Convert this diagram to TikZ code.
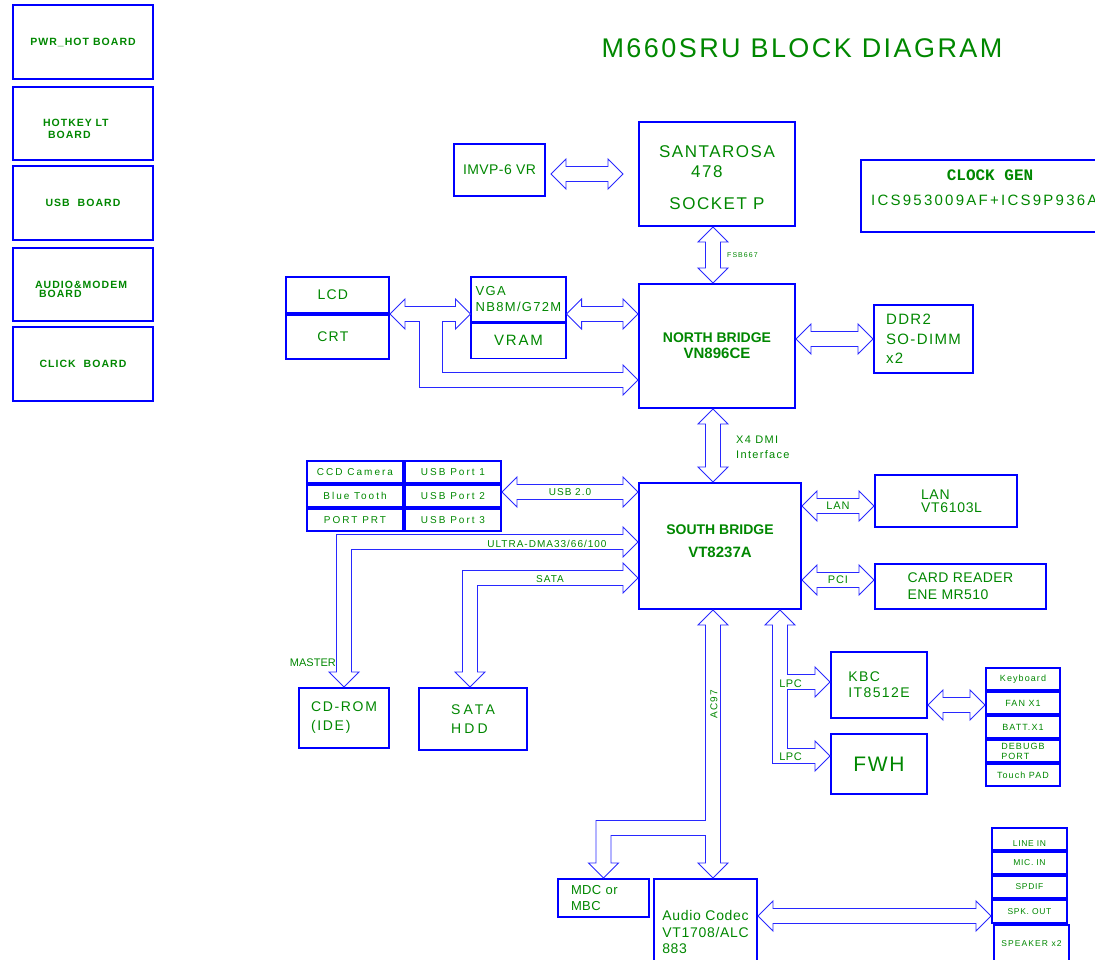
\documentclass[tikz,border=0pt]{standalone}
\usepackage{fontspec}
\setmainfont{Liberation Sans}
\newfontfamily\clkfont{Liberation Mono}
\usepackage{xcolor}
\definecolor{dgblue}{RGB}{0,0,255}
\definecolor{dgbus}{RGB}{40,40,255}
\definecolor{dggreen}{RGB}{0,135,0}
\usetikzlibrary{calc, positioning}
% font size, baselineskip, letter spacing
\newcommand{\fnt}[3]{\fontsize{#1}{#2}\selectfont\addfontfeature{LetterSpace=#3}}
% hollow bus arrows
\newcommand{\arrhead}{15}
\newcommand{\arrshaft}{7.5}
\newcommand{\arrlen}{15}
\newcommand{\dblarr}[2]{%
  \coordinate (da) at #1;
  \coordinate (db) at #2;
  \coordinate (da1) at ($(da)!\arrlen pt!(db)$);
  \coordinate (db1) at ($(db)!\arrlen pt!(da)$);
  \draw[bus] (da) -- ($(da1)!\arrhead pt!90:(db)$) -- ($(da1)!\arrshaft pt!90:(db)$)
    -- ($(db1)!\arrshaft pt!-90:(da)$) -- ($(db1)!\arrhead pt!-90:(da)$) -- (db)
    -- ($(db1)!\arrhead pt!90:(da)$) -- ($(db1)!\arrshaft pt!90:(da)$)
    -- ($(da1)!\arrshaft pt!-90:(db)$) -- ($(da1)!\arrhead pt!-90:(db)$) -- cycle;}

\begin{document}
\begin{tikzpicture}[x=1pt, y=-1pt,
  blk/.style={rectangle, draw=dgblue, line width=2pt, inner sep=0pt, text=dggreen, align=center},
  vgabox/.style={blk, line width=1.1pt},
  board/.style={blk, minimum width=140, font=\bfseries\fnt{10.5}{12}{10}},
  cell/.style={blk, minimum width=96, minimum height=22, font=\fnt{10}{12}{20}},
  kcell/.style={blk, minimum width=74, minimum height=22, font=\fnt{9}{10}{12}},
  jcell/.style={blk, minimum width=75, minimum height=22, font=\fnt{8.5}{10}{8}},
  bus/.style={draw=dgbus, line width=0.9pt, fill=white, line join=miter},
  lbl/.style={text=dggreen, inner sep=0pt},
  buslbl/.style={lbl, font=\fnt{10}{12}{10}}
]
  \useasboundingbox (0,0) rectangle (1095,960);
  \clip (0,0) rectangle (1095,960);

  % Daughter boards
  \node[board, minimum height=74] (pwrhot) at (83,42) {PWR\_HOT BOARD};
  \node[board, minimum height=73, align=left, text width=80] (hotkey) at (83,123.5) {\rule{0pt}{17.5pt}HOTKEY LT\\\hspace*{5pt}BOARD};
  \node[board, minimum height=74] (usbbrd) at (83,203) {USB\ \ BOARD};
  \node[board, minimum height=73, align=left, text width=96, font=\bfseries\fnt{10.5}{9}{10}] (audbrd) at (83,284.5) {\rule{0pt}{17.5pt}AUDIO\&MODEM\\\hspace*{4pt}BOARD};
  \node[board, minimum height=74] (clkbrd) at (83,364) {CLICK\ \ BOARD};

  % Title
  \node[lbl, font=\fnt{27}{30}{9}] (title) at (802,48) {M660SRU BLOCK DIAGRAM};

  % CPU
  \node[blk, minimum width=91, minimum height=52, font=\fnt{14}{16}{3}] (imvp) at (499.5,170) {IMVP-6 VR};
  \node[blk, minimum width=156, minimum height=104, font=\fnt{17}{20}{9}] (cpu) at (717,174) {\rule{0pt}{18.4pt}SANTAROSA\\478\hphantom{00}\\[12pt]SOCKET P};
  \node[blk, minimum width=258, minimum height=72, font=\fnt{15}{25}{15}] (clkgen) at (990,196)
    {{\clkfont\bfseries\fontsize{16}{25}\selectfont CLOCK GEN}\\ICS953009AF+ICS9P936AF\rule[-16pt]{0pt}{16pt}};

  % North bridge and graphics
  \node[blk, minimum width=156, minimum height=124, font=\bfseries\fnt{14}{16}{0}] (nb) at (717,346)
    {NORTH BRIDGE\\{\fontsize{15}{16}\selectfont VN896CE}};
  \node[blk, minimum width=103, minimum height=36, font=\fnt{14}{16}{9}] (lcd) at (337.5,295) {LCD\hphantom{X}};
  \node[blk, minimum width=103, minimum height=44, font=\fnt{14}{16}{9}, below=0pt of lcd] (crt) {CRT\hphantom{X}};
  \node[vgabox, minimum width=95, minimum height=45, align=left, font=\fnt{13}{16}{10}] (vga) at (518.5,299.5) {VGA\\NB8M/G72M};
  \node[vgabox, minimum width=95, minimum height=35, font=\fnt{15}{16}{12}, below=0pt of vga] (vram) {VRAM};
  \node[blk, minimum width=99, minimum height=68, align=left, font=\fnt{15}{19.5}{9}] (ddr) at (923.5,339) {DDR2\\SO-DIMM\\x2};

  % South bridge and peripherals
  \node[blk, minimum width=162, minimum height=126, font=\bfseries\fnt{14}{23}{0}] (sb) at (720,546)
    {SOUTH BRIDGE\\{\fontsize{15}{23}\selectfont VT8237A}\rule[-10pt]{0pt}{10pt}};
  \node[cell] (ccd) at (355,472) {CCD Camera};
  \node[cell, right=0pt of ccd] (usbp1) {USB Port 1};
  \node[cell, below=0pt of ccd] (bt) {Blue Tooth};
  \node[cell, right=0pt of bt] (usbp2) {USB Port 2};
  \node[cell, below=0pt of bt] (prt) {PORT PRT};
  \node[cell, right=0pt of prt] (usbp3) {USB Port 3};
  \node[blk, minimum width=142, minimum height=52, align=left, text width=50, font=\fnt{14}{13}{5}] (lan) at (946,501) {LAN\\VT6103L};
  \node[blk, minimum width=171, minimum height=45, align=left, font=\fnt{14}{17}{3}] (card) at (960.5,586.5) {CARD READER\\ENE MR510};
  \node[blk, minimum width=90, minimum height=60, align=left, font=\fnt{14}{19}{12}] (cdrom) at (344,718) {CD-ROM\\(IDE)};
  \node[blk, minimum width=108, minimum height=62, align=left, font=\fnt{14}{19}{22}] (hdd) at (473,719) {SATA\\HDD};
  \node[blk, minimum width=96, minimum height=66, align=left, font=\fnt{14}{16}{10}] (kbc) at (879,685) {KBC\\IT8512E};
  \node[blk, minimum width=96, minimum height=60, font=\fnt{21}{24}{8}] (fwh) at (879,764) {FWH};
  \node[kcell] (kbd) at (1023,679) {Keyboard};
  \node[kcell, below=0pt of kbd] (fan) {FAN X1};
  \node[kcell, below=0pt of fan] (batt) {BATT.X1};
  \node[kcell, below=0pt of batt, align=left] (debug) {DEBUGB\\PORT};
  \node[kcell, below=0pt of debug] (tpad) {Touch PAD};

  % Audio
  \node[blk, minimum width=91, minimum height=38, align=left, text width=65, font=\fnt{13}{16}{3}] (mdc) at (603.5,898) {MDC or\\MBC};
  \node[blk, minimum width=103, minimum height=106, align=left, font=\fnt{14}{16.5}{5}] (audio) at (705.5,932) {Audio Codec\\VT1708/ALC\\883};
  \node[jcell] (linein) at (1029.5,839) {\rule{0pt}{14pt}LINE IN};
  \node[jcell, below=0pt of linein] (micin) {MIC. IN};
  \node[jcell, below=0pt of micin] (spdif) {SPDIF};
  \node[jcell, below=0pt of spdif, minimum height=23] (spkout) {SPK. OUT};
  \node[blk, minimum width=75, minimum height=38, font=\fnt{8.5}{10}{13}] (spkr) at (1031.5,944) {SPEAKER x2};

  % Buses
  \dblarr{($(imvp.east |- cpu.west)+(5,0)$)}{($(cpu.west)+(-15,0)$)}
  \dblarr{($(cpu.south)+(-4,0)$)}{($(nb.north)+(-4,0)$)}
  \node[lbl, anchor=west, font=\fnt{7}{8}{15}] (fsb) at ($(cpu.south)+(10,28)$) {FSB667};
  \dblarr{(lcd.south east)}{(vga.west |- lcd.south)}
  % LCD/CRT to north bridge
  \coordinate (vgabr) at ($(lcd.south east)+(41,0)$);
  \coordinate (nbtip) at ($(nb.west)+(0,34)$);
  \draw[bus] ($(vgabr)+(-11.5,\arrshaft-0.5)$) -- ($(vgabr |- nbtip)+(-11.5,\arrshaft)$)
    -- ($(nbtip)+(-\arrlen,\arrshaft)$) -- ++(0,\arrhead-\arrshaft) -- (nbtip)
    -- ++(-\arrlen,-\arrhead) -- ++(0,\arrhead-\arrshaft)
    -- ($(vgabr |- nbtip)+(11.5,-\arrshaft)$) -- ($(vgabr)+(11.5,\arrshaft-0.5)$);
  \dblarr{(vga.east |- lcd.south)}{(nb.west |- lcd.south)}
  \dblarr{(nb.east |- ddr.west)}{(ddr.west)}
  \dblarr{($(nb.south)+(-4,0)$)}{($(sb.north)+(-7,0)$)}
  \node[lbl, anchor=west, align=left, font=\fnt{11}{15}{12}] (dmi) at ($(nb.south)+(19,38)$) {X4 DMI\\Interface};
  \coordinate (usbtip) at ($(usbp2.east)+(0,-4)$);
  \dblarr{(usbtip)}{(sb.west |- usbtip)}
  \node[buslbl] (usblbl) at ($(da)!0.5!(db)$) {USB 2.0};
  \dblarr{($(sb.east |- lan.west)+(0,5)$)}{($(lan.west)+(0,5)$)}
  \node[buslbl, font=\fnt{11}{12}{8}] (lanlbl) at ($(da)!0.5!(db)$) {LAN};
  \dblarr{($(sb.east |- card.west)+(0,-6.5)$)}{($(card.west)+(0,-6.5)$)}
  \node[buslbl, font=\fnt{11}{12}{8}] (pcilbl) at ($(da)!0.5!(db)$) {PCI};
  \dblarr{($(kbc.east)+(0,20)$)}{($(fan.west |- kbc.east)+(0,20)$)}

  % IDE
  \coordinate (udma) at ($(sb.west)+(0,-4)$);
  \coordinate (udmak) at (cdrom.north |- udma);
  \draw[bus] (udma) -- ++(-\arrlen,-\arrhead) -- ++(0,\arrhead-\arrshaft)
    -- ($(udmak)+(-\arrshaft,-\arrshaft)$) -- ($(cdrom.north)+(-\arrshaft,-\arrlen)$)
    -- ++(\arrshaft-\arrhead,0) -- (cdrom.north) -- ++(\arrhead,-\arrlen) -- ++(\arrshaft-\arrhead,0)
    -- ($(udmak)+(\arrshaft,\arrshaft)$) -- ($(udma)+(-\arrlen,\arrshaft)$) -- ++(0,\arrhead-\arrshaft) -- cycle;
  \node[buslbl] (udmalbl) at ($(udma)+(-91,2)$) {ULTRA-DMA33/66/100};
  \node[lbl, anchor=east, font=\fnt{11}{12}{0}] (master) at ($(cdrom.north)+(-8,-24)$) {MASTER};
  % SATA
  \coordinate (sata) at ($(sb.west)+(0,32)$);
  \coordinate (hddtip) at ($(hdd.north)+(-3,0)$);
  \coordinate (satak) at (hddtip |- sata);
  \draw[bus] (sata) -- ++(-\arrlen,-\arrhead) -- ++(0,\arrhead-\arrshaft)
    -- ($(satak)+(-\arrshaft,-\arrshaft)$) -- ($(hddtip)+(-\arrshaft,-\arrlen)$)
    -- ++(\arrshaft-\arrhead,0) -- (hddtip) -- ++(\arrhead,-\arrlen) -- ++(\arrshaft-\arrhead,0)
    -- ($(satak)+(\arrshaft,\arrshaft)$) -- ($(sata)+(-\arrlen,\arrshaft)$) -- ++(0,\arrhead-\arrshaft) -- cycle;
  \node[buslbl] (satalbl) at ($(sata)+(-88,1)$) {SATA};

  % AC97 to codec and MDC
  \coordinate (actop) at ($(sb.south)+(-7,0)$);
  \coordinate (actip) at ($(audio.north)+(7.5,0)$);
  \coordinate (mdck) at ($(mdc.north)+(0,-50)$);
  \draw[bus] (actop) -- ++(\arrhead,\arrlen) -- ++(\arrshaft-\arrhead,0)
    -- ($(actip)+(\arrshaft,-\arrlen)$) -- ++(\arrhead-\arrshaft,0) -- (actip)
    -- ++(-\arrhead,-\arrlen) -- ++(\arrhead-\arrshaft,0)
    -- ($(actip |- mdck)+(-\arrshaft,\arrshaft)$) -- ($(mdck)+(\arrshaft,\arrshaft)$)
    -- ($(mdc.north)+(\arrshaft,-\arrlen)$) -- ++(\arrhead-\arrshaft,0) -- (mdc.north)
    -- ++(-\arrhead,-\arrlen) -- ++(\arrhead-\arrshaft,0)
    -- ($(mdck)+(-\arrshaft,-\arrshaft)$) -- ($(actop |- mdck)+(-\arrshaft,-\arrshaft)$)
    -- ($(actop)+(-\arrshaft,\arrlen)$) -- ++(\arrshaft-\arrhead,0) -- cycle;
  \node[buslbl, rotate=90] (aclbl) at ($(actop)+(1,94)$) {AC97};
  \coordinate (spktip) at ($(spkout.west)+(0,4.5)$);
  \dblarr{(audio.east |- spktip)}{(spktip)}

  % LPC to KBC and FWH
  \coordinate (lpc) at ($(sb.south)+(60,0)$);
  \coordinate (kbctip) at ($(kbc.west)+(0,-3)$);
  \coordinate (fwhtip) at ($(fwh.west)+(0,-8)$);
  \draw[bus] (lpc) -- ++(\arrhead,\arrlen) -- ++(\arrshaft-\arrhead,0)
    -- ($(lpc |- kbctip)+(\arrshaft,-\arrshaft)$) -- ($(kbctip)+(-\arrlen,-\arrshaft)$)
    -- ++(0,\arrshaft-\arrhead) -- (kbctip) -- ++(-\arrlen,\arrhead) -- ++(0,\arrshaft-\arrhead)
    -- ($(lpc |- kbctip)+(\arrshaft,\arrshaft)$) -- ($(lpc |- fwhtip)+(\arrshaft,-\arrshaft)$)
    -- ($(fwhtip)+(-\arrlen,-\arrshaft)$) -- ++(0,\arrshaft-\arrhead) -- (fwhtip)
    -- ++(-\arrlen,\arrhead) -- ++(0,\arrshaft-\arrhead)
    -- ($(lpc |- fwhtip)+(-\arrshaft,\arrshaft)$) -- ($(lpc)+(-\arrshaft,\arrlen)$)
    -- ++(\arrshaft-\arrhead,0) -- cycle;
  \node[buslbl, font=\fnt{11}{12}{5}] (lpclbl1) at ($(kbctip)+(-39.5,2)$) {LPC};
  \node[buslbl, font=\fnt{11}{12}{5}] (lpclbl2) at ($(fwhtip)+(-39.5,1)$) {LPC};
\end{tikzpicture}
\end{document}
